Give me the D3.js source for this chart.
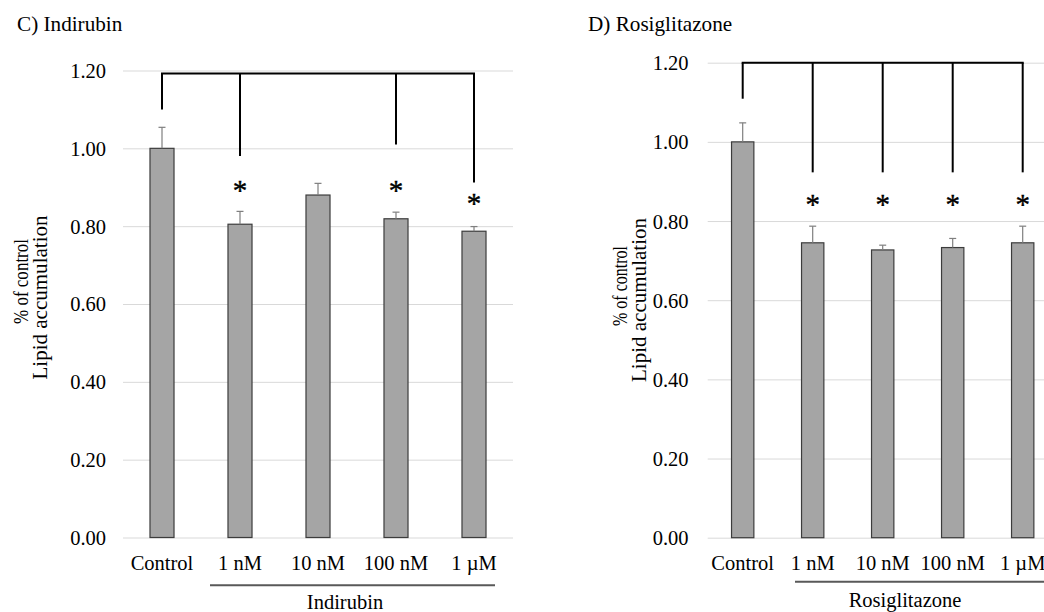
<!DOCTYPE html>
<html>
<head>
<meta charset="utf-8">
<script src="https://cdn.jsdelivr.net/npm/d3@7"></script>
<style>
  html, body { margin: 0; padding: 0; background: #fff; }
  svg { display: block; }
  text { font-family: "Liberation Serif", "Times New Roman", serif; fill: #000; }
</style>
</head>
<body>
<svg id="chart" width="1044" height="612"></svg>
<script>
// ---- data ----
const categories = ["Control", "1 nM", "10 nM", "100 nM", "1 µM"];
const yTicks = [0, 0.2, 0.4, 0.6, 0.8, 1.0, 1.2];

const indirubinValues = [1.000, 0.805, 0.880, 0.819, 0.787];
const indirubinErrors = [0.054, 0.033, 0.030, 0.017, 0.012];
const indirubinStars  = [null, 0.901, null, 0.901, 0.867];
const indirubinDrops  = [1.100, 0.980, null, 1.010, 0.912];
const indirubinBracketTop = 1.192;

const rosiValues = [1.000, 0.745, 0.727, 0.733, 0.745];
const rosiErrors = [0.048, 0.042, 0.012, 0.023, 0.042];
const rosiStars  = [null, 0.851, 0.851, 0.851, 0.851];
const rosiDrops  = [1.109, 0.923, 0.923, 0.923, 0.923];
const rosiBracketTop = 1.200;

// ---- layout ----
const panels = [
  {
    values: indirubinValues, errors: indirubinErrors, stars: indirubinStars,
    drops: indirubinDrops, bracketTop: indirubinBracketTop,
    title: "C) Indirubin", group: "Indirubin",
    titleX: 17, titleY: 31,
    x0: 123, step: 78, gridEnd: 513, barRatio: 0.308,
    yTop: 70.5, yBottom: 537.5, tickRight: 106,
    xLabelBase: 569.5, underlineY: 585.3, underlineX: [210, 495],
    groupX: 345, groupY: 609,
    ytl1: {x: 28, y: 281.5, size: 20.5, len: 85}, ytl2: {x: 46.5, y: 297.5, size: 21.5, len: 164}
  },
  {
    values: rosiValues, errors: rosiErrors, stars: rosiStars,
    drops: rosiDrops, bracketTop: rosiBracketTop,
    title: "D) Rosiglitazone", group: "Rosiglitazone",
    titleX: 588, titleY: 31,
    x0: 707.7, step: 70, gridEnd: 1044, barRatio: 0.319,
    yTop: 62.7, yBottom: 537.7, tickRight: 688.5,
    xLabelBase: 570, underlineY: 581.7, underlineX: [795, 1044],
    groupX: 905, groupY: 606.5,
    ytl1: {x: 626.5, y: 286, size: 20.5, len: 80}, ytl2: {x: 646, y: 300, size: 21.5, len: 164}
  }
];

const svg = d3.select("#chart");

function drawPanel(cfg) {
  const g = svg.append("g");
  const x = d3.scaleBand().domain(categories)
    .range([cfg.x0, cfg.x0 + cfg.step * categories.length]).padding(0);
  const y = d3.scaleLinear().domain([0, 1.2]).range([cfg.yBottom, cfg.yTop]);
  const cx = c => x(c) + x.bandwidth() / 2;
  const barW = x.bandwidth() * cfg.barRatio;

  // gridlines
  const grid = g.append("g").attr("transform", `translate(${cfg.x0},0)`)
    .call(d3.axisRight(y).tickValues(yTicks).tickSize(cfg.gridEnd - cfg.x0).tickFormat(""));
  grid.select(".domain").remove();
  grid.selectAll("line").attr("stroke", "#d9d9d9").attr("stroke-width", 1);

  // y tick labels
  const ya = g.append("g").attr("transform", `translate(${cfg.tickRight},0)`)
    .call(d3.axisLeft(y).tickValues(yTicks).tickSize(0).tickPadding(0).tickFormat(d3.format(".2f")));
  ya.select(".domain").remove();
  ya.selectAll("text").attr("font-size", 20.5).attr("font-family", "Liberation Serif").attr("fill", "#000").attr("dy", "0.34em");

  // x labels
  const xa = g.append("g").attr("transform", `translate(0,${cfg.yBottom})`)
    .call(d3.axisBottom(x).tickSize(0));
  xa.select(".domain").remove();
  xa.selectAll("text").attr("font-size", 20.5).attr("font-family", "Liberation Serif").attr("fill", "#000")
    .attr("dy", null).attr("y", cfg.xLabelBase - cfg.yBottom);

  // bars
  g.selectAll("rect.bar").data(categories).join("rect")
    .attr("class", "bar")
    .attr("x", c => cx(c) - barW / 2)
    .attr("y", (c, i) => y(cfg.values[i]))
    .attr("width", barW)
    .attr("height", (c, i) => y(0) - y(cfg.values[i]))
    .attr("fill", "#a5a5a5").attr("stroke", "#3c3c3c").attr("stroke-width", 1.2);

  // error bars (upper only)
  const eb = g.selectAll("g.err").data(categories).join("g").attr("class", "err");
  eb.append("line")
    .attr("x1", c => cx(c)).attr("x2", c => cx(c))
    .attr("y1", (c, i) => y(cfg.values[i])).attr("y2", (c, i) => y(cfg.values[i] + cfg.errors[i]))
    .attr("stroke", "#7f7f7f").attr("stroke-width", 1.2);
  eb.append("line")
    .attr("x1", c => cx(c) - 3.5).attr("x2", c => cx(c) + 3.5)
    .attr("y1", (c, i) => y(cfg.values[i] + cfg.errors[i])).attr("y2", (c, i) => y(cfg.values[i] + cfg.errors[i]))
    .attr("stroke", "#7f7f7f").attr("stroke-width", 1.2);

  // significance bracket
  const dropIdx = cfg.drops.map((d, i) => d == null ? null : i).filter(i => i != null);
  const first = dropIdx[0], last = dropIdx[dropIdx.length - 1];
  g.append("line")
    .attr("x1", cx(categories[first]) - 1).attr("x2", cx(categories[last]) + 1)
    .attr("y1", y(cfg.bracketTop)).attr("y2", y(cfg.bracketTop))
    .attr("stroke", "#000").attr("stroke-width", 2);
  g.selectAll("line.drop").data(dropIdx).join("line").attr("class", "drop")
    .attr("x1", i => cx(categories[i])).attr("x2", i => cx(categories[i]))
    .attr("y1", y(cfg.bracketTop)).attr("y2", i => y(cfg.drops[i]))
    .attr("stroke", "#000").attr("stroke-width", 2);

  // asterisks
  const starIdx = cfg.stars.map((d, i) => d == null ? null : i).filter(i => i != null);
  g.selectAll("text.star").data(starIdx).join("text").attr("class", "star")
    .attr("x", i => cx(categories[i]))
    .attr("y", i => y(cfg.stars[i]) + 13)
    .attr("text-anchor", "middle").attr("font-size", 29)
    .attr("stroke", "#000").attr("stroke-width", 0.4)
    .text("*");

  // group underline + label
  g.append("line")
    .attr("x1", cfg.underlineX[0]).attr("x2", cfg.underlineX[1])
    .attr("y1", cfg.underlineY).attr("y2", cfg.underlineY)
    .attr("stroke", "#595959").attr("stroke-width", 2);
  g.append("text").attr("x", cfg.groupX).attr("y", cfg.groupY)
    .attr("text-anchor", "middle").attr("font-size", 20.5).text(cfg.group);

  // panel title
  g.append("text").attr("x", cfg.titleX).attr("y", cfg.titleY)
    .attr("font-size", 21.2).text(cfg.title);

  // y axis title (two lines, rotated)
  g.append("text")
    .attr("transform", `translate(${cfg.ytl1.x},${cfg.ytl1.y}) rotate(-90)`)
    .attr("text-anchor", "middle").attr("font-size", cfg.ytl1.size)
    .attr("textLength", cfg.ytl1.len).attr("lengthAdjust", "spacingAndGlyphs")
    .text("% of control");
  g.append("text")
    .attr("transform", `translate(${cfg.ytl2.x},${cfg.ytl2.y}) rotate(-90)`)
    .attr("text-anchor", "middle").attr("font-size", cfg.ytl2.size)
    .attr("textLength", cfg.ytl2.len).attr("lengthAdjust", "spacingAndGlyphs")
    .text("Lipid accumulation");
}

panels.forEach(drawPanel);
</script>
</body>
</html>
